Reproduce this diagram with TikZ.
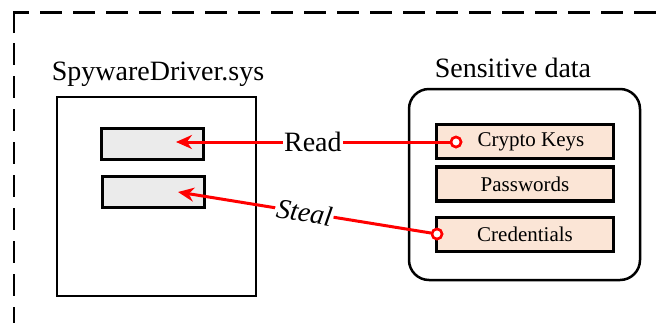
\documentclass[tikz,border=0pt]{standalone}
\usepackage{fontspec}
\setmainfont{Liberation Serif}
\usetikzlibrary{arrows.meta}
\definecolor{slotgray}{HTML}{EBEBEB}
\definecolor{datafill}{HTML}{FBE5D6}
\tikzset{
  big/.style={font=\fontsize{28}{30}\selectfont},
  small/.style={font=\fontsize{21}{23}\selectfont},
  drvbox/.style={draw, line width=2.5pt, minimum width=199pt, minimum height=199pt, inner sep=0pt},
  slot/.style={draw, line width=3pt, fill=slotgray, minimum width=102pt, minimum height=31pt, inner sep=0pt},
  store/.style={draw, line width=2.5pt, rounded corners=20pt, minimum width=231pt, minimum height=191pt, inner sep=0pt},
  datum/.style={draw, line width=3.5pt, fill=datafill, minimum width=177pt, minimum height=34pt, inner sep=0pt, small},
  redline/.style={draw=red, line width=3pt},
  arrowline/.style={redline, -{Stealth[length=16pt,width=14pt]}},
  port/.style={circle, draw=red, line width=2.5pt, fill=white, minimum size=10pt, inner sep=0pt},
  verb/.style={big, fill=white, inner xsep=1.5pt, inner ysep=0pt},
  frame/.style={line width=2.5pt, dash pattern=on 22pt off 11pt}
}
\begin{document}
\begin{tikzpicture}[x=1pt, y=-1pt]
  \useasboundingbox (0,0) rectangle (667,322);

  % dashed enclosure (runs past the right and bottom edges)
  \draw[line width=2.5pt] (14,33) -- (14,12.5) -- (29,12.5);
  \draw[frame] (40,12.5) -- (700,12.5);
  \draw[frame] (14,43) -- (14,340);

  % driver
  \node[big, anchor=base] (drvtitle) at (158,80) {SpywareDriver.sys};
  \node[drvbox] (drv) at (156.5,196.5) {};
  \node[slot] (slotA) at (152,143.5) {};
  \node[slot] (slotB) at (153,191.5) {};

  % sensitive data store
  \node[big, anchor=base] (storetitle) at (513,77) {Sensitive data};
  \node[store] (store) at (524.5,184.5) {};
  \node[datum] (keys) at (525,141.5) {\hspace*{12pt}Crypto Keys};
  \node[datum] (pwd) at (525,184) {Passwords};
  \node[datum] (cred) at (525,234.5) {Credentials};

  % connectors
  \node[port] (pk) at (456,142) {};
  \node[port] (pc) at (437,234) {};
  \coordinate (tipA) at (176,142);
  \coordinate (tipB) at (178,192);

  \draw[arrowline] (pk) -- node[verb, pos=0.5, text=black] (rd) {Read} (tipA);
  \draw[arrowline] (pc) -- node[verb, pos=0.5, sloped, text=black] (st) {\itshape Steal} (tipB);
  \node[port] at (pk) {};
  \node[port] at (pc) {};
\end{tikzpicture}
\end{document}
